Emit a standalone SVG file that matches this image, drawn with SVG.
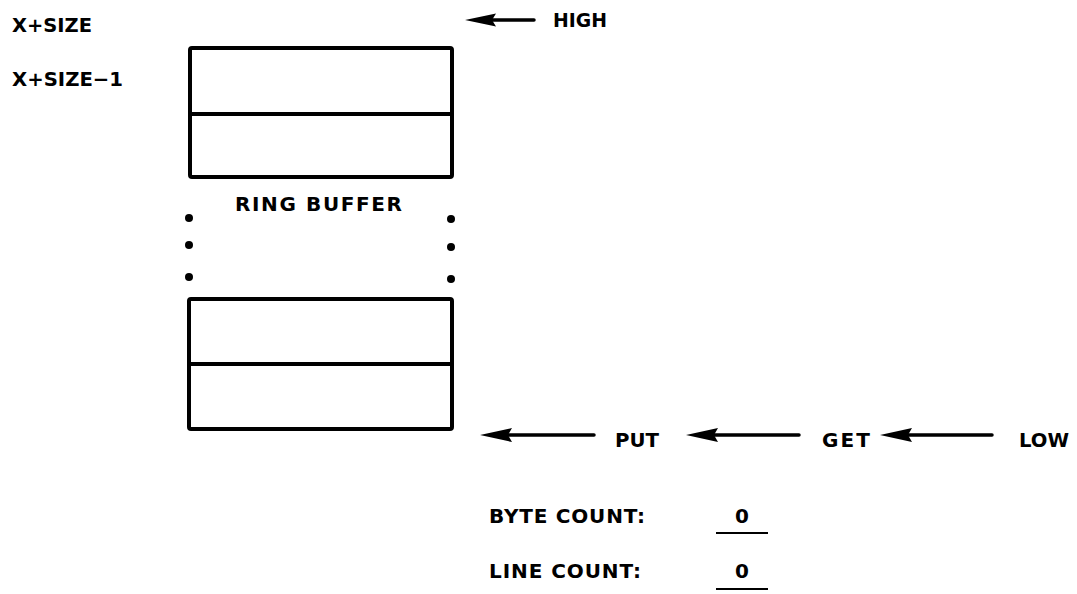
<svg xmlns="http://www.w3.org/2000/svg" width="1077" height="594" viewBox="0 0 1077 594">
<style>
  text { font-family: "DejaVu Sans", "Liberation Sans", Arial, sans-serif; font-weight: bold; font-size: 20px; fill: #000; }
  .box { fill: #fff; stroke: #000; stroke-width: 4; }
  .div { stroke: #000; stroke-width: 4; }
  .shaft { stroke: #000; stroke-width: 3.5; stroke-linecap: round; }
  .head { fill: #000; }
  .ul { stroke: #000; stroke-width: 1.8; }
  .dot { fill: #000; }
</style>
<rect width="1077" height="594" fill="#fff"/>

<g id="labels-left">
  <text x="12" y="32" textLength="80" lengthAdjust="spacingAndGlyphs">X+SIZE</text>
  <text x="12" y="86" textLength="111" lengthAdjust="spacingAndGlyphs">X+SIZE−1</text>
</g>

<g id="high">
  <text x="553" y="27" textLength="54" lengthAdjust="spacingAndGlyphs">HIGH</text>
</g>

<g id="ring-top">
  <rect class="box" x="190" y="48" width="262" height="129" rx="2"/>
  <line class="div" x1="190" y1="114" x2="452" y2="114"/>
</g>

<g id="ring-label">
  <text x="235" y="211" textLength="167" lengthAdjust="spacing">RING BUFFER</text>
  <circle class="dot" cx="189" cy="218" r="4"/>
  <circle class="dot" cx="189" cy="245" r="4"/>
  <circle class="dot" cx="189" cy="277" r="4"/>
  <circle class="dot" cx="451" cy="219" r="4"/>
  <circle class="dot" cx="451" cy="247" r="4"/>
  <circle class="dot" cx="451" cy="279" r="4"/>
</g>

<g id="ring-bottom">
  <rect class="box" x="189" y="299" width="263" height="130" rx="2"/>
  <line class="div" x1="189" y1="364" x2="452" y2="364"/>
</g>

<g id="put">
  <text x="615" y="447" textLength="44" lengthAdjust="spacingAndGlyphs">PUT</text>
</g>
<g id="get">
  <text x="822" y="447" textLength="48" lengthAdjust="spacing">GET</text>
</g>
<g id="low">
  <text x="1019" y="447" textLength="50" lengthAdjust="spacingAndGlyphs">LOW</text>
</g>

<g id="connectors">
  <line class="shaft" x1="534" y1="20" x2="490" y2="20"/>
  <polygon class="head" points="465,20 496,13.5 492,20 496,26.5"/>

  <line class="shaft" x1="594" y1="435" x2="505" y2="435"/>
  <polygon class="head" points="480,435 512,428 508,435 512,442"/>

  <line class="shaft" x1="799" y1="435" x2="710" y2="435"/>
  <polygon class="head" points="686,435 718,428 714,435 718,442"/>

  <line class="shaft" x1="992" y1="435" x2="905" y2="435"/>
  <polygon class="head" points="880,435 912,428 908,435 912,442"/>
</g>

<g id="byte-count">
  <text x="489" y="523" textLength="156" lengthAdjust="spacing">BYTE COUNT:</text>
  <text x="742" y="523" text-anchor="middle">0</text>
  <line class="ul" x1="716" y1="533" x2="768" y2="533"/>
</g>

<g id="line-count">
  <text x="489" y="578" textLength="152" lengthAdjust="spacing">LINE COUNT:</text>
  <text x="742" y="578" text-anchor="middle">0</text>
  <line class="ul" x1="716" y1="589" x2="768" y2="589"/>
</g>
</svg>
